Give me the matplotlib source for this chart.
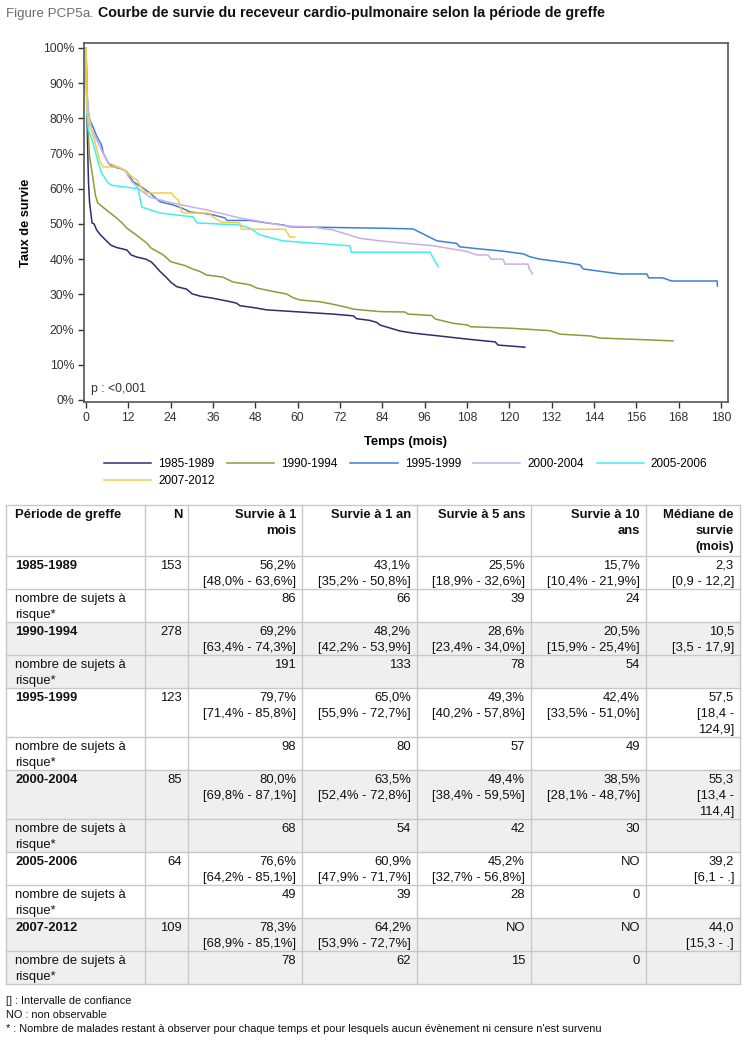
import numpy as np
import matplotlib
matplotlib.use('Agg')
import matplotlib.pyplot as plt
from matplotlib.patches import Rectangle

plt.rcParams['font.family'] = ['Liberation Sans', 'DejaVu Sans']

# Kaplan-Meier curves (months, survival %)
t_8589 = [0, 0.3, 0.5, 0.7, 1, 1.7, 2.3, 3, 4, 5.5, 7, 8.7, 11.6, 12.8, 14.4, 17, 18.5, 19.5, 21, 22.6, 24, 25.7,
          28.5, 30, 32.3, 36, 40, 42.7, 43.6, 48.4, 51.2, 60.6, 70, 75.8, 76.7, 80.5, 82.5, 83.3, 89, 92.7, 100,
          108, 116, 116.8, 124.4]
s_8589 = [100, 80, 70, 62, 56.2, 50.3, 50, 48.3, 47, 45.5, 44, 43.3, 42.6, 41.2, 40.6, 40, 39.2, 38.2, 36.5, 35,
          33.5, 32.2, 31.5, 30.2, 29.5, 28.9, 28.1, 27.5, 26.8, 26.1, 25.6, 25.0, 24.4, 23.9, 23.1, 22.6, 22, 21.3,
          19.6, 19, 18.2, 17.3, 16.5, 15.6, 15.0]

t_9094 = [0, 0.2, 0.5, 1, 1.5, 2.1, 2.7, 3.3, 4.5, 6.5, 8.7, 10.5, 11.6, 14.2, 17.2, 18.4, 21.9, 24, 25, 28, 30,
          32.3, 34.2, 38.8, 41.7, 43.6, 46.5, 48.4, 52.2, 56.9, 58.8, 60.7, 66.3, 70, 74, 75.8, 83.3, 90.4, 91.3,
          98, 99, 104, 108.2, 109, 120, 131.5, 134.4, 142.9, 145.7, 166.4]
s_9094 = [100, 85, 78, 69.2, 66, 62, 58, 56, 55, 53.4, 51.7, 50, 48.8, 46.9, 44.6, 43.2, 41.2, 39.3, 39, 38.2,
          37.3, 36.5, 35.5, 34.9, 33.5, 33.2, 32.7, 31.8, 31, 30.1, 29, 28.4, 27.9, 27.2, 26.3, 25.8, 25.1, 25,
          24.4, 24, 23, 21.8, 21.3, 20.8, 20.4, 19.7, 18.7, 18.2, 17.6, 16.8]

t_9599 = [0, 0.3, 0.6, 1, 2, 3, 4.4, 4.9, 6.3, 7.7, 9.6, 11.5, 13.4, 16.2, 18.1, 21, 24.7, 27.2, 29.5, 33.3, 36,
          39.4, 40, 46.5, 51.2, 56, 57.8, 70, 83.3, 92.7, 99.5, 105, 106, 111.7, 118, 124, 125.8, 128.7, 136.3,
          140, 141, 151.4, 159, 159.5, 163.5, 166, 178.9, 179]
s_9599 = [100, 87, 82, 79.7, 77.5, 75, 72.4, 70.1, 67.3, 66.2, 65.8, 64.9, 62, 60.2, 58.8, 56.3, 55.4, 54.5,
          53.4, 53, 52.6, 51.7, 51, 51, 50.3, 49.7, 49.2, 49, 48.8, 48.6, 45.2, 44.5, 43.5, 42.9, 42.3, 41.5,
          40.7, 40, 39, 38.4, 37.2, 35.8, 35.8, 34.7, 34.7, 33.8, 33.8, 32.4]

t_0004 = [0, 0.3, 0.6, 1, 1.6, 3, 4.4, 6.3, 9, 11, 12, 13, 15.3, 18, 22.9, 28.6, 34.2, 43.6, 56.9, 63.5, 70,
          77.7, 83.3, 98.4, 108, 110.8, 114, 114.8, 118.2, 118.8, 125.3, 125.6, 126.6]
s_0004 = [100, 88, 83, 80, 76.7, 73.9, 71, 67.3, 66.2, 65.3, 63.5, 62, 59.7, 57.7, 56.3, 55.1, 54, 51.7, 49.4,
          49.2, 48.3, 45.9, 45.2, 43.8, 42.2, 41.2, 41.2, 40, 40, 38.6, 38.6, 37.4, 35.8]

t_0506 = [0, 0.2, 0.7, 2, 3.5, 4.4, 6.3, 7.3, 14.8, 15.8, 21, 30.4, 31.4, 43.6, 46.5, 49.3, 55.8, 74.8, 75.2,
          97.5, 99.8]
s_0506 = [100, 82, 76.7, 73, 67.3, 64.5, 61.6, 61, 60, 54.8, 53.1, 52, 50.3, 49.7, 48.8, 46.9, 45.2, 43.8, 42,
          42, 37.9]

t_0712 = [0, 0.3, 1, 2.6, 4, 4.9, 9.2, 11.5, 13, 14.4, 15.8, 17.2, 24.3, 24.8, 26.2, 27.1, 28.5, 34.7, 36, 38.5,
          43.6, 44.1, 56.4, 57.8, 59.2]
s_0712 = [100, 82.4, 78.3, 73, 67.6, 66.2, 66.2, 64.8, 63.4, 62.5, 60.2, 58.8, 58.8, 57.9, 56.8, 53.4, 53.1,
          53.1, 52, 50.5, 50.3, 48.5, 48.5, 46.3, 46.3]

periods = ['1985-1989', '1990-1994', '1995-1999', '2000-2004', '2005-2006', '2007-2012']
curve_t = [t_8589, t_9094, t_9599, t_0004, t_0506, t_0712]
curve_s = [s_8589, s_9094, s_9599, s_0004, s_0506, s_0712]
colors = ['#2e2d6e', '#8c9c3a', '#3b80d8', '#c9aee8', '#3ff0f0', '#f6cc45']

# table values
n_vals = [153, 278, 123, 85, 64, 109]
surv_1m = ['56,2%', '69,2%', '79,7%', '80,0%', '76,6%', '78,3%']
ci_1m = ['[48,0% - 63,6%]', '[63,4% - 74,3%]', '[71,4% - 85,8%]', '[69,8% - 87,1%]', '[64,2% - 85,1%]',
         '[68,9% - 85,1%]']
surv_1a = ['43,1%', '48,2%', '65,0%', '63,5%', '60,9%', '64,2%']
ci_1a = ['[35,2% - 50,8%]', '[42,2% - 53,9%]', '[55,9% - 72,7%]', '[52,4% - 72,8%]', '[47,9% - 71,7%]',
         '[53,9% - 72,7%]']
surv_5a = ['25,5%', '28,6%', '49,3%', '49,4%', '45,2%', 'NO']
ci_5a = ['[18,9% - 32,6%]', '[23,4% - 34,0%]', '[40,2% - 57,8%]', '[38,4% - 59,5%]', '[32,7% - 56,8%]', '']
surv_10a = ['15,7%', '20,5%', '42,4%', '38,5%', 'NO', 'NO']
ci_10a = ['[10,4% - 21,9%]', '[15,9% - 25,4%]', '[33,5% - 51,0%]', '[28,1% - 48,7%]', '', '']
median = ['2,3', '10,5', '57,5', '55,3', '39,2', '44,0']
median_ci = [['[0,9 - 12,2]'], ['[3,5 - 17,9]'], ['[18,4 -', '124,9]'], ['[13,4 -', '114,4]'],
             ['[6,1 - .]'], ['[15,3 - .]']]
at_risk = [[86, 66, 39, 24], [191, 133, 78, 54], [98, 80, 57, 49], [68, 54, 42, 30], [49, 39, 28, 0],
           [78, 62, 15, 0]]

header = [['Période de greffe'], ['N'], ['Survie à 1', 'mois'], ['Survie à 1 an'], ['Survie à 5 ans'],
          ['Survie à 10', 'ans'], ['Médiane de', 'survie', '(mois)']]
footnotes = ['[] : Intervalle de confiance', 'NO : non observable',
             "* : Nombre de malades restant à observer pour chaque temps et pour lesquels aucun évènement "
             "ni censure n'est survenu"]

W, H = 744, 1040
fig = plt.figure(figsize=(W / 100, H / 100), dpi=100)

# pixel-space overlay for title, table and notes
pa = fig.add_axes([0, 0, 1, 1])
pa.set_xlim(0, W)
pa.set_ylim(H, 0)
pa.axis('off')

t1 = pa.text(6, 20, 'Figure PCP5a.', fontsize=9.6, color='#6b6b6b', va='bottom', ha='left')
pa.annotate(' Courbe de survie du receveur cardio-pulmonaire selon la période de greffe',
            xy=(1, 0), xycoords=t1, va='bottom', ha='left', fontsize=10.25, fontweight='bold', color='#111111')

# survival chart
ax = fig.add_axes([84 / W, 1 - 402 / H, (728 - 84) / W, (402 - 43) / H])
for tt, ss, c, lab in zip(curve_t, curve_s, colors, periods):
    ax.plot(tt, ss, color=c, lw=1.1, label=lab, solid_joinstyle='miter')

ax.set_xlim(-0.57, 182)
ax.set_ylim(-0.57, 101.4)
ax.set_xticks(np.arange(0, 181, 12))
ax.set_yticks(np.arange(0, 101, 10))
ax.set_yticklabels([f'{v}%' for v in range(0, 101, 10)])
ax.tick_params(labelsize=8.8, colors='#333333', length=4, width=1, pad=3)
for sp in ax.spines.values():
    sp.set_color('#555555')
    sp.set_linewidth(1.2)
ax.set_xlabel('Temps (mois)', fontsize=9.4, fontweight='bold', labelpad=9)
ax.set_ylabel('Taux de survie', fontsize=9.2, fontweight='bold', labelpad=8)
ax.text(1.5, 3, 'p : <0,001', fontsize=8.8, color='#333333', ha='left', va='center')

h, l = ax.get_legend_handles_labels()
order = [0, 5, 1, 2, 3, 4]
fig.legend([h[i] for i in order], [l[i] for i in order], ncol=5, loc='upper left',
           bbox_to_anchor=(104 / W, 1 - 458 / H), frameon=False, fontsize=8.5,
           handlelength=4.0, handletextpad=0.6, columnspacing=1.05, labelspacing=0.42,
           borderpad=0, borderaxespad=0)

# table
col_x = [6, 145, 188, 302, 417, 531, 646, 740]
line_h = 16
grid_c = '#c8c8c8'
fs = 9.4

rows = []
rows.append((header, True, False))
for i, p in enumerate(periods):
    main = [[p], [str(n_vals[i])], [surv_1m[i], ci_1m[i]], [surv_1a[i], ci_1a[i]],
            [surv_5a[i]] + ([ci_5a[i]] if ci_5a[i] else []),
            [surv_10a[i]] + ([ci_10a[i]] if ci_10a[i] else []),
            [median[i]] + median_ci[i]]
    risk = [['nombre de sujets à', 'risque*'], []] + [[str(v)] for v in at_risk[i]] + [[]]
    shade = (i % 2 == 1)
    rows.append((main, 'bold_first', shade))
    rows.append((risk, False, shade))

y = 505
for cells, bold, shade in rows:
    nl = max(max(len(c) for c in cells), 2)
    rh = line_h * nl + 1
    if cells is header:
        rh = 51
    if shade:
        pa.add_patch(Rectangle((col_x[0], y), col_x[-1] - col_x[0], rh, facecolor='#efefef',
                               edgecolor='none', zorder=0))
    for j, c in enumerate(cells):
        for k, txt in enumerate(c):
            w = 'bold' if (bold is True or (bold == 'bold_first' and j == 0)) else 'normal'
            if j == 0:
                pa.text(col_x[0] + 9, y + 10 + k * line_h, txt, fontsize=fs, fontweight=w,
                        ha='left', va='center', color='#111111')
            else:
                pa.text(col_x[j + 1] - 6, y + 10 + k * line_h, txt, fontsize=fs, fontweight=w,
                        ha='right', va='center', color='#111111')
    pa.plot([col_x[0], col_x[-1]], [y, y], color=grid_c, lw=1)
    y += rh
pa.plot([col_x[0], col_x[-1]], [y, y], color=grid_c, lw=1)
for cx in col_x:
    pa.plot([cx, cx], [505, y], color=grid_c, lw=1)

for k, note in enumerate(footnotes):
    pa.text(6, 1001 + k * 14, note, fontsize=7.9, ha='left', va='center', color='#111111')

fig.savefig('out.png', dpi=100)
